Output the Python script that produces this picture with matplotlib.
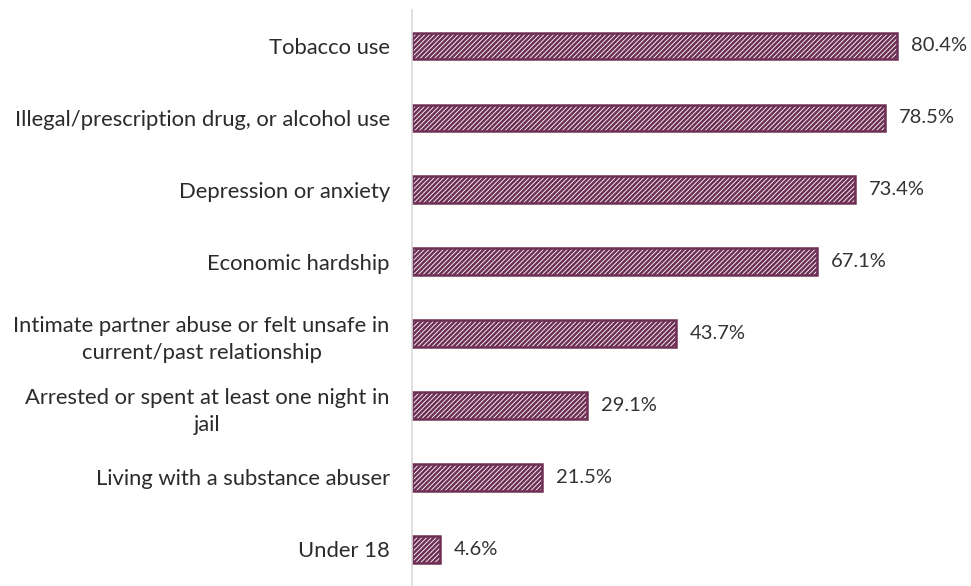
import matplotlib.pyplot as plt

plt.rcParams['font.family'] = ['Lato', 'DejaVu Sans']
plt.rcParams['hatch.linewidth'] = 1.8

categories = [
    "Tobacco use",
    "Illegal/prescription drug, or alcohol use",
    "Depression or anxiety",
    "Economic hardship",
    "Intimate partner abuse or felt unsafe in\ncurrent/past relationship",
    "Arrested or spent at least one night in\njail",
    "Living with a substance abuser",
    "Under 18",
]
values = [80.4, 78.5, 73.4, 67.1, 43.7, 29.1, 21.5, 4.6]

purple = "#6e2f55"

fig = plt.figure(figsize=(9.71, 5.86), dpi=100)
ax = fig.add_axes([412 / 971, 0, (965 - 412) / 971, 576 / 586])

ypos = list(range(len(categories)))
ax.barh(ypos, values, height=0.37, color="white", edgecolor=purple,
        hatch="/" * 7, linewidth=1.8)

for y, v in zip(ypos, values):
    ax.text(v + 2.3, y, f"{v}%", va="center", ha="left", fontsize=14.5, color="#333333")

ax.set_xlim(0, (965 - 412) / 6.03)
ax.set_ylim(7.51, -0.5)
ax.set_xticks([])
ax.set_yticks(ypos)
ax.set_yticklabels(categories, fontsize=15.8, color="#2b2b2b",
                   multialignment="center", linespacing=1.45)
ax.tick_params(axis="y", length=0, pad=16)
for side in ["top", "right", "bottom"]:
    ax.spines[side].set_visible(False)
ax.spines["left"].set_color("#d9d9d9")
ax.spines["left"].set_linewidth(1.2)

fig.savefig("out.png", dpi=100)
